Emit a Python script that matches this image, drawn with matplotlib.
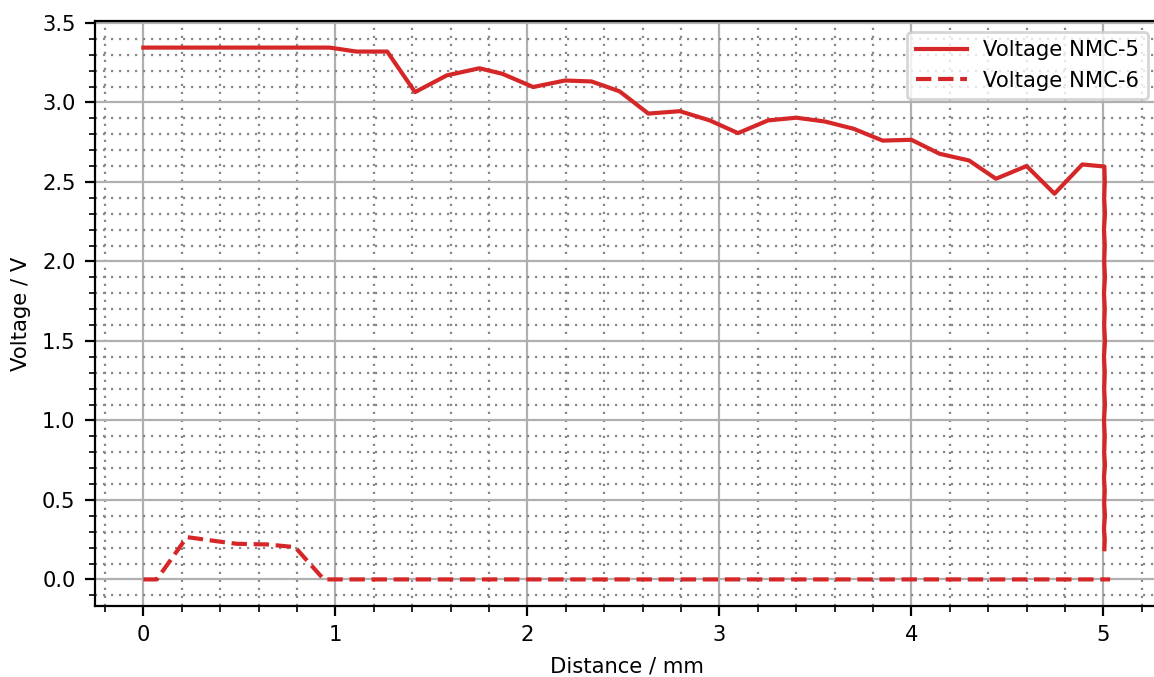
import matplotlib
matplotlib.use("Agg")
import matplotlib.pyplot as plt
from matplotlib.ticker import AutoMinorLocator

# NMC-5 voltage profile (distance in mm, voltage in V)
dist_nmc5 = [0.0, 0.97, 1.11, 1.27, 1.415, 1.58, 1.75, 1.87, 2.03, 2.196, 2.334,
             2.48, 2.63, 2.794, 2.95, 3.097, 3.253, 3.40, 3.55, 3.70, 3.85, 4.0,
             4.147, 4.30, 4.44, 4.60, 4.745, 4.89, 5.005,
             5.007, 5.004, 5.008, 5.003, 5.007, 5.004, 5.008, 5.003, 5.007,
             5.004, 5.008, 5.003, 5.007, 5.004, 5.008, 5.003, 5.007, 5.004,
             5.008, 5.003, 5.007, 5.004, 5.008, 5.003, 5.007, 5.005]
volt_nmc5 = [3.345, 3.345, 3.32, 3.32, 3.065, 3.17, 3.215, 3.18, 3.097, 3.138, 3.132,
             3.07, 2.93, 2.945, 2.887, 2.807, 2.887, 2.904, 2.88, 2.834, 2.76, 2.765,
             2.677, 2.635, 2.52, 2.60, 2.426, 2.61, 2.597,
             2.50, 2.40, 2.30, 2.20, 2.10, 2.00, 1.90, 1.80, 1.70,
             1.60, 1.50, 1.40, 1.30, 1.20, 1.10, 1.00, 0.90, 0.80,
             0.72, 0.64, 0.56, 0.48, 0.40, 0.32, 0.25, 0.19]

# NMC-6 voltage profile
dist_nmc6 = [0.0, 0.07, 0.227, 0.383, 0.487, 0.644, 0.79, 0.94, 5.035]
volt_nmc6 = [0.0, 0.0, 0.266, 0.24, 0.224, 0.22, 0.203, 0.0, 0.0]

red = "#d62728"

plt.rcParams.update({
    "font.family": "DejaVu Sans",
    "font.size": 7.6,
})

fig = plt.figure(figsize=(5.77, 3.385), dpi=200)
ax = fig.add_axes([95 / 1154, 71 / 677, 1063.5 / 1154, 585 / 677])

ax.plot(dist_nmc5, volt_nmc5, color=red, linewidth=1.5, label="Voltage NMC-5")
ax.plot(dist_nmc6, volt_nmc6, color=red, linewidth=1.5, linestyle="--",
        label="Voltage NMC-6")

ax.xaxis.set_minor_locator(AutoMinorLocator(5))
ax.yaxis.set_minor_locator(AutoMinorLocator(5))
ax.grid(True, which="major", color="#b0b0b0", linewidth=0.8)
ax.grid(True, which="minor", color="#888888", linewidth=0.8,
        linestyle=(0, (1, 2.6)))
ax.set_axisbelow(True)

ax.set_xlabel("Distance / mm")
ax.set_ylabel("Voltage / V")
ax.legend(loc="upper right", handlelength=2.4)

fig.savefig("out.png", dpi=200)
